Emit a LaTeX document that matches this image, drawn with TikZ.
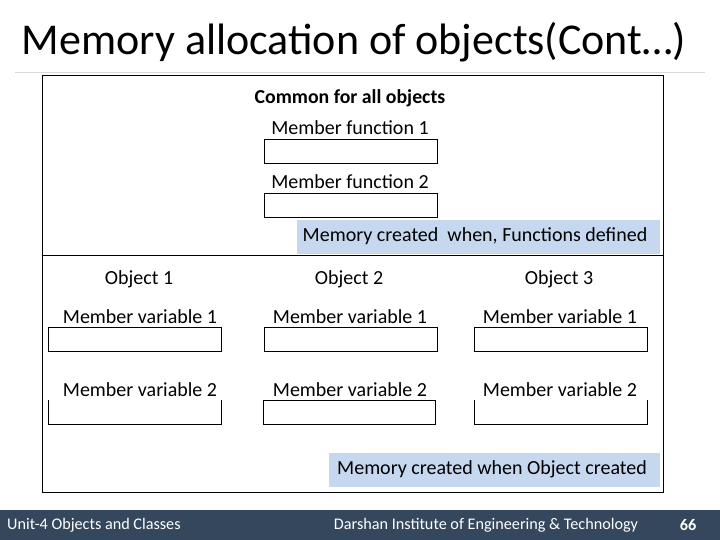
\documentclass[tikz,border=0pt]{standalone}
\usepackage{fontspec}
\setmainfont{Carlito}
\definecolor{notebg}{RGB}{198,216,240}
\definecolor{footbg}{RGB}{52,71,92}
\tikzset{
    slot/.style={draw, line width=0.8pt, minimum width=173pt, minimum height=24pt, inner sep=0pt},
    lbl/.style={font=\fontsize{20}{24}\selectfont, inner sep=0pt},
    note/.style={fill=notebg, font=\fontsize{20}{24}\selectfont, inner sep=0pt, anchor=north west},
    foot/.style={text=white, font=\fontsize{16.2}{19}\selectfont, inner sep=0pt}
}
\begin{document}
\begin{tikzpicture}[x=1pt, y=-1pt]
        \useasboundingbox (0,0) rectangle (720,540);
        % title
        \node[inner sep=0pt, font=\fontsize{44}{50}\selectfont] (title) at (354,42) {Memory allocation of objects(Cont\ldots)};
        \draw[black!15] (15,72) -- (705,72);

        % frame
        \draw[line width=0.8pt] (42,75) rectangle (663,492);
        \draw[line width=0.8pt] (42,255) -- (663,255);

        % common part
        \node[lbl, font=\bfseries\fontsize{19.8}{23}\selectfont] (common) at (350,98) {Common for all objects};
        \node[lbl] (mf1) at (350,128) {Member function 1};
        \node[slot, anchor=north west] (mf1box) at (264,139) {};
        \node[lbl] (mf2) at (350,182) {Member function 2};
        \node[slot, anchor=north west] (mf2box) at (264,193) {};
        \node[note, minimum width=363pt, minimum height=34pt] (fnote) at (297,220) {};
        \node[lbl] (fnotetext) at (475,236) {Memory created\ \ when, Functions defined};

        % objects
        \foreach \i/\x in {1/139, 2/349, 3/559} {
            \node[lbl] (obj\i) at (\x,279) {Object \i};
            \node[lbl] (mvA\i) at (\x+1,317) {Member variable 1};
            \node[lbl] (mvB\i) at (\x+1,390) {Member variable 2};
        }
        \node[slot, anchor=north west] (boxA1) at (48,327) {};
        \node[slot, anchor=north west] (boxA2) at (264,327) {};
        \node[slot, anchor=north west] (boxA3) at (474,327) {};
        \draw[line width=0.8pt] (48,400) -- (48,424) -- (221,424) -- (221,400);
        \node[slot, anchor=north west, minimum width=172pt] (boxB2) at (263,400) {};
        \draw[line width=0.8pt] (474,400) -- (474,424) -- (647,424) -- (647,400);

        \node[note, minimum width=331pt, minimum height=34pt] (onote) at (329,453) {};
        \node[lbl] (onotetext) at (492,469) {Memory created when Object created};

        % footer
        \fill[footbg] (0,510) rectangle (720,540);
        \node[foot, anchor=west] (unit) at (7,525) {Unit-4 Objects and Classes};
        \node[foot] (inst) at (486,525) {Darshan Institute of Engineering \& Technology};
        \node[foot, font=\bfseries\fontsize{16.2}{19}\selectfont] (page) at (688,525) {66};
    \end{tikzpicture}
\end{document}
